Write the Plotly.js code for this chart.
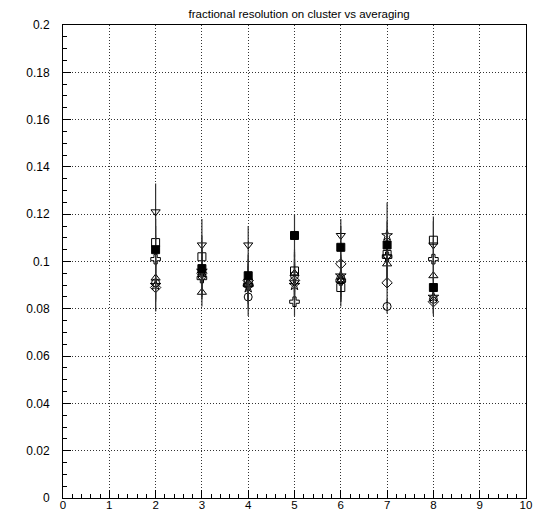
<!DOCTYPE html>
<html>
<head>
<meta charset="utf-8">
<script src="https://cdn.plot.ly/plotly-3.0.1.min.js"></script>
<style>html,body{margin:0;padding:0;background:#fff;}#chart{width:539px;height:513px;}</style>
</head>
<body>
<div id="chart"></div>
<script>
// x positions
const xVals = [2, 3, 4, 5, 6, 7, 8];

// series values
const filledSquare = [0.105, 0.097, 0.094, 0.111, 0.106, 0.107, 0.089];
const openSquare   = [0.108, 0.102, 0.091, 0.096, 0.089, 0.103, 0.109];
const invTriangle  = [0.121, 0.107, 0.107, 0.091, 0.111, 0.102, 0.107];
const upTriangle   = [0.093, 0.087, 0.091, 0.095, 0.092, 0.099, 0.094];
const openCross    = [0.101, 0.093, 0.090, 0.083, 0.092, 0.102, 0.101];
const openCircle   = [0.091, 0.094, 0.085, 0.094, 0.093, 0.081, 0.084];
const openDiamond  = [0.089, 0.095, 0.092, 0.092, 0.099, 0.091, 0.083];
const openStar     = [0.090, 0.096, 0.089, 0.090, 0.094, 0.111, 0.085];

// errors
const errFilledSquare = [0.010, 0.009, 0.009, 0.009, 0.009, 0.010, 0.008];
const errOpenSquare   = [0.010, 0.009, 0.008, 0.009, 0.008, 0.010, 0.010];
const errInvTriangle  = [0.012, 0.011, 0.008, 0.009, 0.007, 0.010, 0.010];
const errUpTriangle   = [0.009, 0.006, 0.008, 0.009, 0.009, 0.010, 0.009];
const errOpenCross    = [0.010, 0.009, 0.008, 0.006, 0.009, 0.010, 0.009];
const errOpenCircle   = [0.008, 0.009, 0.008, 0.009, 0.009, 0.003, 0.006];
const errOpenDiamond  = [0.010, 0.009, 0.009, 0.009, 0.009, 0.008, 0.005];
const errOpenStar     = [0.011, 0.009, 0.009, 0.009, 0.009, 0.014, 0.008];

// tick labels
const xTicks = [0,1,2,3,4,5,6,7,8,9,10];
const xTickText = ["0","1","2","3","4","5","6","7","8","9","10"];
const yTicks = [0,0.02,0.04,0.06,0.08,0.1,0.12,0.14,0.16,0.18,0.2];
const yTickText = ["0","0.02","0.04","0.06","0.08","0.1","0.12","0.14","0.16","0.18","0.2"];

const seriesDefs = [
  {y: openCircle, e: errOpenCircle, sym: 'circle-open', size: 8},
  {y: openDiamond, e: errOpenDiamond, sym: 'diamond-open', size: 8},
  {y: openStar, e: errOpenStar, sym: 'star-open', size: 8},
  {y: upTriangle, e: errUpTriangle, sym: 'triangle-up-open', size: 8},
  {y: openCross, e: errOpenCross, sym: 'cross-open', size: 8},
  {y: invTriangle, e: errInvTriangle, sym: 'triangle-down-open', size: 8},
  {y: openSquare, e: errOpenSquare, sym: 'square-open', size: 8},
  {y: filledSquare, e: errFilledSquare, sym: 'square', size: 8}
];

const traces = seriesDefs.map(s => ({
  type: 'scatter', mode: 'markers', x: xVals, y: s.y,
  error_y: {type: 'data', array: s.e, visible: true, color: '#333', thickness: 1.2, width: 0},
  marker: {symbol: s.sym, size: s.size, color: '#000', line: {color: '#000', width: 1}},
  showlegend: false, hoverinfo: 'none'
}));

const axisFont = {family: 'Liberation Sans, Arial, sans-serif', size: 12, color: '#000'};
const xAxisFont = {family: 'Liberation Sans, Arial, sans-serif', size: 11.5, color: '#000'};

const layout = {
  width: 539, height: 513,
  margin: {l: 63, r: 13, t: 25, b: 15, pad: 0},
  paper_bgcolor: '#fff', plot_bgcolor: '#fff',
  showlegend: false,
  title: {text: 'fractional resolution on cluster vs averaging', x: 0.555, xref: 'container', xanchor: 'center', y: 0.973, yref: 'container', yanchor: 'middle', font: {family: 'Liberation Sans, Arial, sans-serif', size: 11.5, color: '#000'}},
  xaxis: {
    range: [0, 10], tickmode: 'array', tickvals: xTicks, ticktext: xTickText,
    ticks: 'inside', ticklen: 8, tickwidth: 1, tickcolor: '#000',
    minor: {dtick: 0.2, ticks: 'inside', ticklen: 4, tickwidth: 1, tickcolor: '#000', showgrid: false},
    showline: true, linecolor: '#000', linewidth: 1, mirror: true,
    showgrid: true, gridcolor: '#333', griddash: '1px,2px', gridwidth: 1,
    zeroline: false, tickfont: xAxisFont, automargin: false, ticklabelstandoff: -4
  },
  yaxis: {
    range: [0, 0.2], tickmode: 'array', tickvals: yTicks, ticktext: yTickText,
    ticks: 'inside', ticklen: 8, tickwidth: 1, tickcolor: '#000',
    minor: {dtick: 0.005, ticks: 'inside', ticklen: 4, tickwidth: 1, tickcolor: '#000', showgrid: false},
    showline: true, linecolor: '#000', linewidth: 1, mirror: true,
    showgrid: true, gridcolor: '#333', griddash: '1px,2px', gridwidth: 1,
    zeroline: false, tickfont: axisFont, automargin: false, ticklabelstandoff: 10
  }
};

Plotly.newPlot('chart', traces, layout, {staticPlot: true, displayModeBar: false});
</script>
</body>
</html>
